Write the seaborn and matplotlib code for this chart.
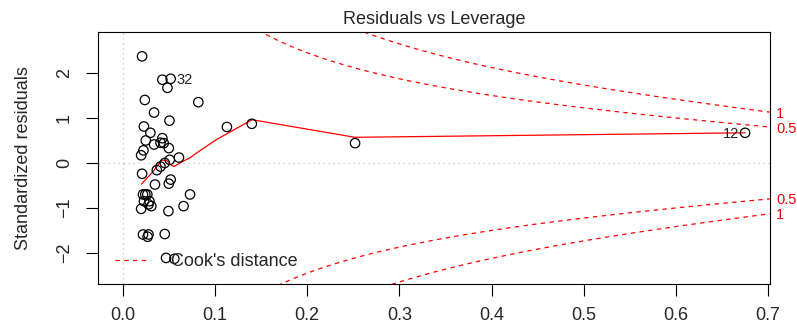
import matplotlib
matplotlib.use("Agg")
import matplotlib.pyplot as plt
from matplotlib.lines import Line2D
import seaborn as sns
import numpy as np
import pandas as pd

# leverage (hat values) and standardized residuals
leverage = [0.021, 0.043, 0.052, 0.0485, 0.024, 0.082, 0.034, 0.0507, 0.023, 0.030,
            0.025, 0.043, 0.034, 0.041, 0.0445, 0.050, 0.0225, 0.020, 0.061, 0.051,
            0.0456, 0.041, 0.037, 0.021, 0.035, 0.052, 0.050, 0.073, 0.022, 0.0245,
            0.0267, 0.023, 0.029, 0.020, 0.031, 0.028, 0.066, 0.0496, 0.022, 0.028,
            0.027, 0.0456, 0.047, 0.056, 0.113, 0.140, 0.252, 0.675]
std_resid = [2.37, 1.85, 1.87, 1.67, 1.40, 1.35, 1.12, 0.94, 0.81, 0.67,
             0.50, 0.55, 0.41, 0.45, 0.44, 0.33, 0.28, 0.17, 0.12, 0.07,
             0.00, -0.08, -0.16, -0.24, -0.48, -0.37, -0.46, -0.70, -0.70, -0.70,
             -0.70, -0.85, -0.85, -1.02, -0.96, -0.92, -0.96, -1.07, -1.59, -1.59,
             -1.64, -1.58, -2.11, -2.13, 0.80, 0.87, 0.44, 0.67]
point_ids = {2: "32", 47: "12"}

# red smoother
smooth_lev = [0.0203, 0.0329, 0.0420, 0.0474, 0.0521, 0.0554, 0.0589, 0.0654,
              0.0727, 0.080, 0.0908, 0.1017, 0.1403, 0.2518, 0.675]
smooth_res = [-0.47, -0.19, 0.06, 0.06, -0.04, -0.08, -0.04, 0.04,
              0.11, 0.22, 0.37, 0.52, 0.96, 0.57, 0.67]

cook_levels = [0.5, 1]
n_params = 3

x_ticks = [0.0, 0.1, 0.2, 0.3, 0.4, 0.5, 0.6, 0.7]
x_ticklabels = ["0.0", "0.1", "0.2", "0.3", "0.4", "0.5", "0.6", "0.7"]
y_ticks = [-2, -1, 0, 1, 2]
y_ticklabels = ["\u22122", "\u22121", "0", "1", "2"]

sns.set_theme(style="white")
plt.rcParams['font.family'] = ['Liberation Sans', 'DejaVu Sans']

fs = 13
fs_small = 10.5
fig = plt.figure(figsize=(7.97, 3.29), dpi=100)
ax = fig.add_axes([98 / 797, 1 - 284 / 329, 672 / 797, 252 / 329])
xlim = (-0.0268, 0.702)
ylim = (-2.69, 2.91)

ax.axhline(0, color="#BEBEBE", lw=0.9, ls=(0, (1, 3)), zorder=0)
ax.axvline(0, color="#BEBEBE", lw=0.9, ls=(0, (1, 3)), zorder=0)

df = pd.DataFrame({"leverage": leverage, "resid": std_resid})
sns.scatterplot(data=df, x="leverage", y="resid", ax=ax, marker="o", s=46,
                facecolor="none", edgecolor="black", linewidth=0.9, zorder=3)

sm = pd.DataFrame({"leverage": smooth_lev, "resid": smooth_res})
sns.lineplot(data=sm, x="leverage", y="resid", ax=ax, color="red", lw=0.9,
             sort=False, estimator=None, zorder=2)

dash = (0, (3.5, 3.5))
hh = np.linspace(0.00675, xlim[1], 101)
for c in cook_levels:
    cl = np.sqrt(c * n_params * (1 - hh) / hh)
    ax.plot(hh, cl, color="red", lw=0.9, ls=dash)
    ax.plot(hh, -cl, color="red", lw=0.9, ls=dash)
    yv = np.sqrt(c * n_params * (1 - xlim[1]) / xlim[1])
    for s in (1, -1):
        ax.annotate(f"{c:g}", (xlim[1], s * yv), xytext=(4.5, 0), textcoords="offset points",
                    ha="left", va="center_baseline", color="red", fontsize=fs_small,
                    annotation_clip=False)

for i, lab in point_ids.items():
    right = leverage[i] < np.mean(leverage) + 0.2
    ax.annotate(lab, (leverage[i], std_resid[i]), xytext=(4 if right else -4, 0),
                textcoords="offset points", ha="left" if right else "right",
                va="center_baseline", fontsize=fs_small)

ax.set_xlim(*xlim)
ax.set_ylim(*ylim)
ax.set_xticks(x_ticks)
ax.set_xticklabels(x_ticklabels, fontsize=fs)
ax.set_yticks(y_ticks)
ax.set_yticklabels(y_ticklabels, fontsize=fs, rotation=90, va="center")
ax.tick_params(bottom=True, left=True, direction="out", length=8.6, width=0.8,
               color="black", pad=8)
ax.tick_params(axis="y", pad=9.5)
for sp in ax.spines.values():
    sp.set_color("black")
    sp.set_linewidth(0.8)

ax.set_xlabel("")
ax.set_ylabel("Standardized residuals", fontsize=fs, labelpad=17)
ax.set_title("Residuals vs Leverage", fontsize=fs, pad=6)

handle = Line2D([], [], color="red", lw=0.9, ls=dash)
ax.legend([handle], ["Cook's distance"], loc="lower left", bbox_to_anchor=(0.025, 0.055),
          frameon=False, handlelength=1.9, handletextpad=1.2, fontsize=fs,
          borderpad=0, borderaxespad=0)

fig.savefig("out.png", dpi=100)
